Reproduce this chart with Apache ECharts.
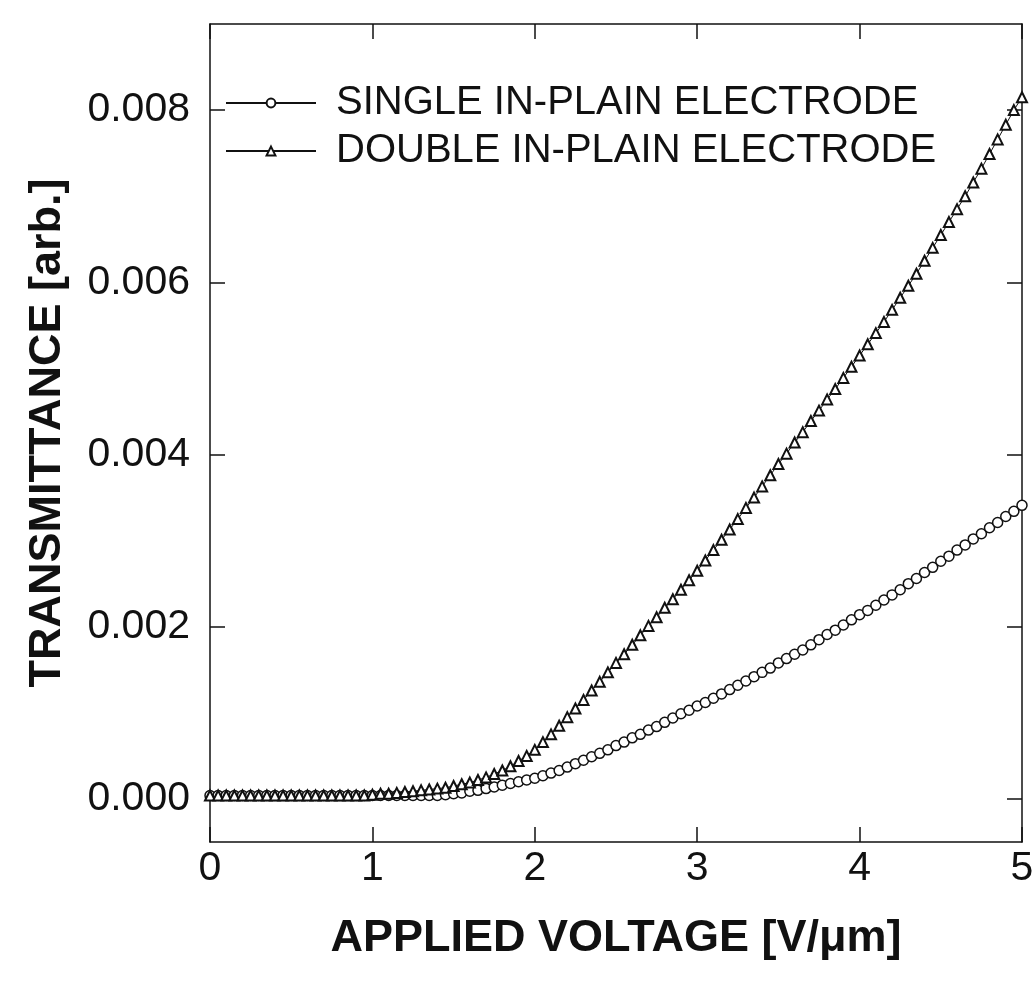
<!DOCTYPE html>
<html>
<head>
<meta charset="utf-8">
<script src="https://cdn.jsdelivr.net/npm/echarts@6/dist/echarts.min.js"></script>
<style>
  html, body { margin: 0; padding: 0; background: #fff; }
  #main { width: 1034px; height: 983px; }
</style>
</head>
<body>
<div id="main"></div>
<script type="text/javascript">
// applied voltage [V/um], 0.05 step
var voltage = [
  0.00, 0.05, 0.10, 0.15, 0.20, 0.25, 0.30, 0.35, 0.40, 0.45,
  0.50, 0.55, 0.60, 0.65, 0.70, 0.75, 0.80, 0.85, 0.90, 0.95,
  1.00, 1.05, 1.10, 1.15, 1.20, 1.25, 1.30, 1.35, 1.40, 1.45,
  1.50, 1.55, 1.60, 1.65, 1.70, 1.75, 1.80, 1.85, 1.90, 1.95,
  2.00, 2.05, 2.10, 2.15, 2.20, 2.25, 2.30, 2.35, 2.40, 2.45,
  2.50, 2.55, 2.60, 2.65, 2.70, 2.75, 2.80, 2.85, 2.90, 2.95,
  3.00, 3.05, 3.10, 3.15, 3.20, 3.25, 3.30, 3.35, 3.40, 3.45,
  3.50, 3.55, 3.60, 3.65, 3.70, 3.75, 3.80, 3.85, 3.90, 3.95,
  4.00, 4.05, 4.10, 4.15, 4.20, 4.25, 4.30, 4.35, 4.40, 4.45,
  4.50, 4.55, 4.60, 4.65, 4.70, 4.75, 4.80, 4.85, 4.90, 4.95,
  5.00
];

var singleT = [
  0.00004, 0.00004, 0.00004, 0.00004, 0.00004, 0.00004, 0.00004, 0.00004, 0.00004, 0.00004,
  0.00004, 0.00004, 0.00004, 0.00004, 0.00004, 0.00004, 0.00004, 0.00004, 0.00004, 0.00004,
  0.00004, 0.00004, 0.00004, 0.00004, 0.00004, 0.00004, 0.00004, 0.00004, 0.00004, 0.00005,
  0.00006, 0.00007, 0.00009, 0.00010, 0.00012, 0.00014, 0.00016, 0.00018, 0.00020, 0.00022,
  0.00024, 0.00027, 0.00030, 0.00033, 0.00037, 0.00041, 0.00045, 0.00049, 0.00053, 0.00057,
  0.00062, 0.00066, 0.00071, 0.00075, 0.00080, 0.00084, 0.00089, 0.00094, 0.00099, 0.00103,
  0.00108, 0.00112, 0.00117, 0.00122, 0.00127, 0.00132, 0.00137, 0.00142, 0.00147, 0.00152,
  0.00158, 0.00163, 0.00168, 0.00173, 0.00179, 0.00185, 0.00191, 0.00196, 0.00202, 0.00208,
  0.00214, 0.00219, 0.00225, 0.00231, 0.00237, 0.00243, 0.00250, 0.00256, 0.00263, 0.00269,
  0.00276, 0.00282, 0.00289, 0.00295, 0.00302, 0.00308, 0.00315, 0.00321, 0.00328, 0.00334,
  0.00341
];

var doubleT = [
  0.00004, 0.00004, 0.00004, 0.00004, 0.00004, 0.00004, 0.00004, 0.00004, 0.00004, 0.00004,
  0.00004, 0.00004, 0.00004, 0.00004, 0.00004, 0.00004, 0.00004, 0.00004, 0.00004, 0.00004,
  0.00005, 0.00006, 0.00006, 0.00007, 0.00008, 0.00009, 0.00010, 0.00011, 0.00012, 0.00013,
  0.00015, 0.00017, 0.00019, 0.00022, 0.00025, 0.00029, 0.00033, 0.00038, 0.00044, 0.00050,
  0.00057, 0.00066, 0.00075, 0.00085, 0.00095, 0.00105, 0.00115, 0.00126, 0.00136, 0.00147,
  0.00158, 0.00168, 0.00179, 0.00190, 0.00201, 0.00211, 0.00222, 0.00232, 0.00243, 0.00254,
  0.00265, 0.00277, 0.00289, 0.00301, 0.00313, 0.00325, 0.00338, 0.00350, 0.00363, 0.00376,
  0.00389, 0.00401, 0.00414, 0.00426, 0.00439, 0.00451, 0.00464, 0.00476, 0.00489, 0.00502,
  0.00515, 0.00528, 0.00541, 0.00554, 0.00568, 0.00582, 0.00596, 0.00610, 0.00625, 0.00640,
  0.00655, 0.00670, 0.00685, 0.00700, 0.00716, 0.00732, 0.00749, 0.00766, 0.00783, 0.00800,
  0.00815
];

var yTicks = [0, 0.002, 0.004, 0.006, 0.008];
var seriesNames = ['SINGLE IN-PLAIN ELECTRODE', 'DOUBLE IN-PLAIN ELECTRODE'];

function pairs(xs, ys) {
    var out = [];
    for (var i = 0; i < xs.length; i++) {
        out.push([xs[i], ys[i]]);
    }
    return out;
}

var font = '"Liberation Sans", Arial, sans-serif';
var black = '#111';

var myChart = echarts.init(document.getElementById('main'));

var xBase = {
    type: 'value',
    min: 0,
    max: 5,
    interval: 1,
    splitLine: { show: false },
    axisLine: { show: true, onZero: false, lineStyle: { color: black, width: 1.5 } },
    axisTick: { show: true, inside: true, length: 15, lineStyle: { color: black, width: 1.5 } }
};
var yBase = {
    type: 'value',
    min: -0.0005,
    max: 0.009,
    splitLine: { show: false },
    axisLine: { show: true, onZero: false, lineStyle: { color: black, width: 1.5 } },
    axisTick: { show: true, inside: true, length: 15, customValues: yTicks, lineStyle: { color: black, width: 1.5 } }
};

var option = {
    backgroundColor: '#fff',
    animation: false,
    grid: { left: 210, right: 12, top: 24, bottom: 141, containLabel: false, outerBoundsMode: 'none' },
    legend: {
        orient: 'vertical',
        left: 220,
        top: 78,
        itemWidth: 90,
        itemHeight: 11,
        itemGap: 8,
        data: seriesNames,
        textStyle: { fontFamily: font, fontSize: 40, color: black, padding: [0, 0, 0, 15] }
    },
    xAxis: [
        Object.assign({}, xBase, {
            position: 'bottom',
            name: 'APPLIED VOLTAGE [V/\u03bcm]',
            nameLocation: 'middle',
            nameGap: 74,
            nameTextStyle: { fontFamily: font, fontSize: 45, fontWeight: 'bold', color: black },
            axisLabel: { margin: 6, fontFamily: font, fontSize: 41, color: black }
        }),
        Object.assign({}, xBase, {
            position: 'top',
            axisLabel: { show: false }
        })
    ],
    yAxis: [
        Object.assign({}, yBase, {
            position: 'left',
            name: 'TRANSMITTANCE [arb.]',
            nameLocation: 'middle',
            nameGap: 140,
            nameTextStyle: { fontFamily: font, fontSize: 45, fontWeight: 'bold', color: black },
            axisLabel: {
                margin: 20,
                fontFamily: font,
                fontSize: 41,
                color: black,
                customValues: yTicks,
                formatter: function (v) { return v.toFixed(3); }
            }
        }),
        Object.assign({}, yBase, {
            position: 'right',
            axisLabel: { show: false }
        })
    ],
    series: [
        {
            name: seriesNames[0],
            type: 'line',
            data: pairs(voltage, singleT),
            symbol: 'circle',
            symbolSize: 10,
            lineStyle: { color: black, width: 1 },
            itemStyle: { color: '#fff', borderColor: black, borderWidth: 1.5 }
        },
        {
            name: seriesNames[1],
            type: 'line',
            data: pairs(voltage, doubleT),
            symbol: 'triangle',
            symbolSize: 10,
            lineStyle: { color: black, width: 1 },
            itemStyle: { color: '#fff', borderColor: black, borderWidth: 2 }
        }
    ]
};
myChart.setOption(option);
</script>
</body>
</html>
